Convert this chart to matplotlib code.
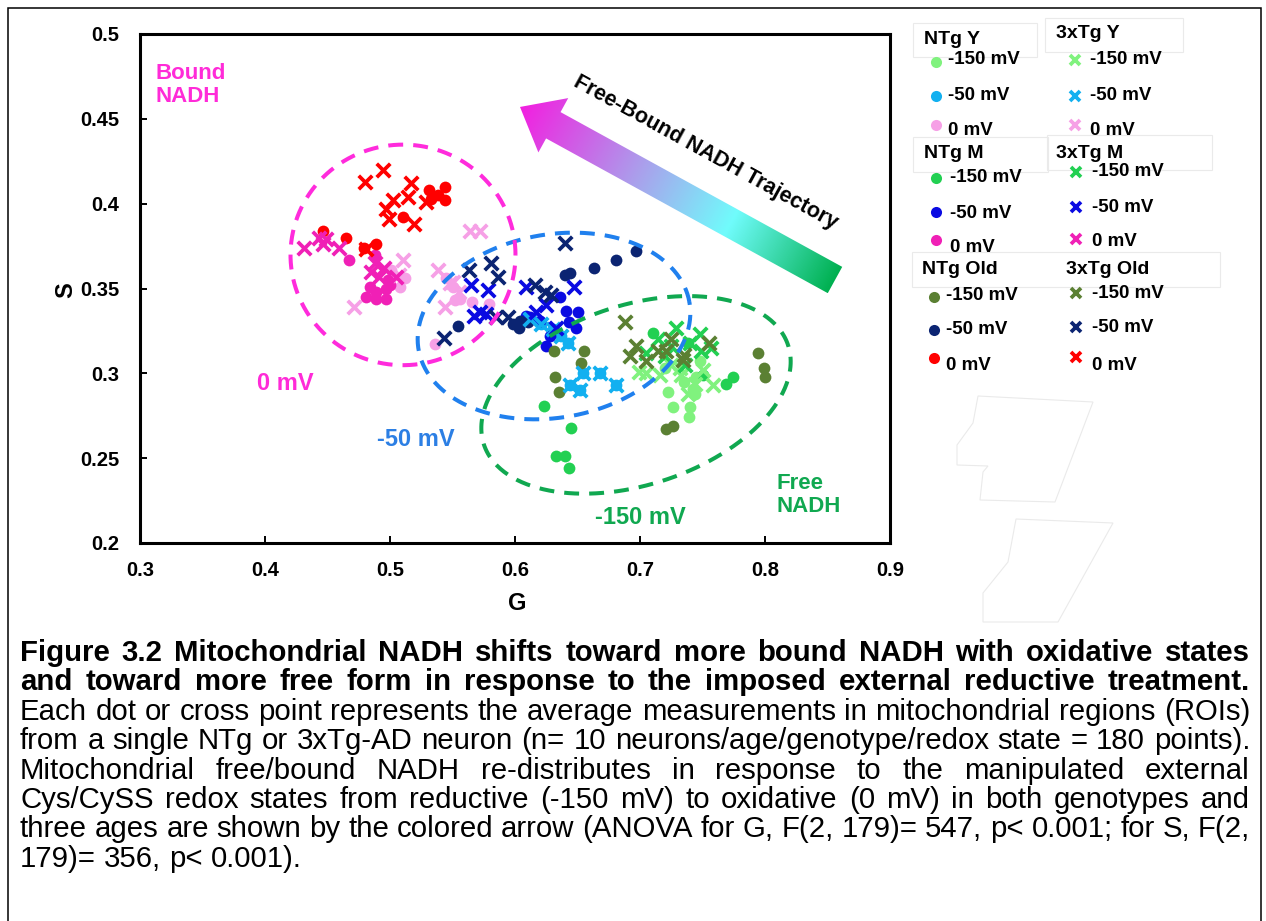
import numpy as np
import matplotlib
matplotlib.use('Agg')
import matplotlib.pyplot as plt
from matplotlib.patches import Polygon, Rectangle
from matplotlib.lines import Line2D
from matplotlib.colors import LinearSegmentedColormap

plt.rcParams['font.family'] = ['Liberation Sans', 'DejaVu Sans']

W, H = 1266, 921

# ---- data (G, S) ----
# NTg young
ntg_y_150_g = [0.748, 0.722, 0.744, 0.726, 0.740, 0.739, 0.742, 0.720, 0.745, 0.735]
ntg_y_150_s = [0.307, 0.289, 0.288, 0.280, 0.280, 0.274, 0.291, 0.303, 0.298, 0.295]
ntg_y_50_g = [0.621, 0.630, 0.637, 0.642, 0.654, 0.644, 0.652, 0.668, 0.681, 0.612]
ntg_y_50_s = [0.329, 0.326, 0.322, 0.318, 0.300, 0.293, 0.290, 0.300, 0.293, 0.332]
ntg_y_0_g = [0.501, 0.508, 0.556, 0.566, 0.579, 0.536, 0.552, 0.550, 0.545, 0.512]
ntg_y_0_s = [0.361, 0.351, 0.344, 0.342, 0.341, 0.317, 0.343, 0.351, 0.356, 0.356]
# NTg middle
ntg_m_150_g = [0.710, 0.750, 0.769, 0.774, 0.623, 0.645, 0.633, 0.640, 0.643, 0.738]
ntg_m_150_s = [0.324, 0.299, 0.294, 0.298, 0.281, 0.268, 0.251, 0.251, 0.244, 0.318]
ntg_m_50_g = [0.636, 0.641, 0.650, 0.649, 0.612, 0.625, 0.609, 0.643, 0.628, 0.620]
ntg_m_50_s = [0.345, 0.337, 0.336, 0.327, 0.333, 0.316, 0.334, 0.330, 0.322, 0.331]
ntg_m_0_g = [0.467, 0.484, 0.489, 0.481, 0.489, 0.497, 0.497, 0.498, 0.488, 0.500]
ntg_m_0_s = [0.367, 0.351, 0.348, 0.345, 0.344, 0.344, 0.350, 0.355, 0.370, 0.352]
# NTg old
ntg_o_150_g = [0.631, 0.655, 0.653, 0.632, 0.635, 0.794, 0.799, 0.800, 0.721, 0.726]
ntg_o_150_s = [0.313, 0.313, 0.306, 0.298, 0.289, 0.312, 0.303, 0.298, 0.267, 0.269]
ntg_o_50_g = [0.697, 0.681, 0.663, 0.640, 0.644, 0.554, 0.604, 0.603, 0.610, 0.598]
ntg_o_50_s = [0.372, 0.367, 0.362, 0.358, 0.359, 0.328, 0.331, 0.327, 0.330, 0.329]
ntg_o_0_g = [0.531, 0.544, 0.538, 0.544, 0.510, 0.446, 0.465, 0.489, 0.479, 0.533]
ntg_o_0_s = [0.408, 0.410, 0.405, 0.402, 0.392, 0.384, 0.380, 0.376, 0.374, 0.403]
# 3xTg young
tg_y_150_g = [0.699, 0.716, 0.733, 0.744, 0.758, 0.732, 0.705, 0.725, 0.738, 0.750]
tg_y_150_s = [0.301, 0.299, 0.299, 0.294, 0.293, 0.303, 0.300, 0.305, 0.288, 0.302]
tg_y_50_g = [0.621, 0.630, 0.637, 0.642, 0.654, 0.644, 0.652, 0.668, 0.681, 0.612]
tg_y_50_s = [0.329, 0.326, 0.322, 0.318, 0.300, 0.293, 0.290, 0.300, 0.293, 0.332]
tg_y_0_g = [0.564, 0.572, 0.510, 0.507, 0.471, 0.538, 0.544, 0.548, 0.550, 0.555]
tg_y_0_s = [0.384, 0.384, 0.367, 0.358, 0.339, 0.361, 0.339, 0.353, 0.354, 0.348]
# 3xTg middle
tg_m_150_g = [0.729, 0.748, 0.757, 0.749, 0.714, 0.720, 0.740, 0.705, 0.736, 0.725]
tg_m_150_s = [0.327, 0.323, 0.315, 0.313, 0.320, 0.310, 0.318, 0.312, 0.305, 0.316]
tg_m_50_g = [0.565, 0.578, 0.572, 0.567, 0.577, 0.609, 0.647, 0.617, 0.633, 0.625]
tg_m_50_s = [0.352, 0.349, 0.336, 0.334, 0.335, 0.351, 0.351, 0.336, 0.327, 0.340]
tg_m_0_g = [0.431, 0.443, 0.446, 0.459, 0.485, 0.495, 0.491, 0.505, 0.449, 0.488]
tg_m_0_s = [0.374, 0.380, 0.376, 0.374, 0.360, 0.362, 0.357, 0.357, 0.379, 0.365]
# 3xTg old
tg_o_150_g = [0.688, 0.697, 0.692, 0.705, 0.714, 0.721, 0.725, 0.735, 0.734, 0.755]
tg_o_150_s = [0.330, 0.316, 0.310, 0.307, 0.313, 0.313, 0.320, 0.311, 0.308, 0.318]
tg_o_50_g = [0.640, 0.563, 0.581, 0.586, 0.616, 0.624, 0.629, 0.585, 0.594, 0.543]
tg_o_50_s = [0.377, 0.361, 0.365, 0.357, 0.352, 0.348, 0.346, 0.333, 0.333, 0.321]
tg_o_0_g = [0.480, 0.494, 0.517, 0.514, 0.502, 0.497, 0.499, 0.519, 0.529, 0.481]
tg_o_0_s = [0.413, 0.420, 0.412, 0.404, 0.402, 0.397, 0.391, 0.388, 0.401, 0.373]

groups = ["NTg Y", "NTg M", "NTg Old", "3xTg Y", "3xTg M", "3xTg Old"]
states = ["-150 mV", "-50 mV", "0 mV"]
colors = {
    "Y": ["#80F27E", "#12B0F0", "#F6A0E6"],
    "M": ["#22D052", "#0A0AE2", "#F020B6"],
    "Old": ["#5B8033", "#0B2472", "#FF0000"],
}
series = {
    "NTg Y": [(ntg_y_150_g, ntg_y_150_s), (ntg_y_50_g, ntg_y_50_s), (ntg_y_0_g, ntg_y_0_s)],
    "NTg M": [(ntg_m_150_g, ntg_m_150_s), (ntg_m_50_g, ntg_m_50_s), (ntg_m_0_g, ntg_m_0_s)],
    "NTg Old": [(ntg_o_150_g, ntg_o_150_s), (ntg_o_50_g, ntg_o_50_s), (ntg_o_0_g, ntg_o_0_s)],
    "3xTg Y": [(tg_y_150_g, tg_y_150_s), (tg_y_50_g, tg_y_50_s), (tg_y_0_g, tg_y_0_s)],
    "3xTg M": [(tg_m_150_g, tg_m_150_s), (tg_m_50_g, tg_m_50_s), (tg_m_0_g, tg_m_0_s)],
    "3xTg Old": [(tg_o_150_g, tg_o_150_s), (tg_o_50_g, tg_o_50_s), (tg_o_0_g, tg_o_0_s)],
}

x_ticks = [0.3, 0.4, 0.5, 0.6, 0.7, 0.8, 0.9]
x_ticklabels = ["0.3", "0.4", "0.5", "0.6", "0.7", "0.8", "0.9"]
y_ticks = [0.2, 0.25, 0.3, 0.35, 0.4, 0.45, 0.5]
y_ticklabels = ["0.2", "0.25", "0.3", "0.35", "0.4", "0.45", "0.5"]

# redox-state ellipses: centre (G, S), half widths (G units, S units), tilt in degrees
# drawn blue first, then green, then magenta
ellipses = [
    ((0.6312, 0.3279), 0.110, 0.054, 10, "#2080EE"),
    ((0.6968, 0.2873), 0.128, 0.053, 18, "#10A850"),
    ((0.5104, 0.3698), 0.090, 0.065, 0, "#FF2BDC"),
]

caption = [
    ("Figure 3.2 Mitochondrial NADH shifts toward more bound NADH with oxidative states", "bold"),
    ("and toward more free form in response to the imposed external reductive treatment.", "bold"),
    ("Each dot or cross point represents the average measurements in mitochondrial regions (ROIs)", "normal"),
    ("from a single NTg or 3xTg-AD neuron (n= 10 neurons/age/genotype/redox state = 180 points).", "normal"),
    ("Mitochondrial free/bound NADH re-distributes in response to the manipulated external", "normal"),
    ("Cys/CySS redox states from reductive (-150 mV) to oxidative (0 mV) in both genotypes and", "normal"),
    ("three ages are shown by the colored arrow (ANOVA for G, F(2, 179)= 547, p< 0.001; for S, F(2,", "normal"),
    ("179)= 356, p< 0.001).", "normal"),
]


def fx(px):
    return px / W


def fy(py):
    return 1 - py / H


fig = plt.figure(figsize=(W / 100, H / 100), dpi=100)
ax = fig.add_axes([fx(140), fy(543), (890 - 140) / W, (543 - 34) / H])
ax.set_xlim(0.3, 0.9)
ax.set_ylim(0.2, 0.5)

# scatter points
for grp in groups:
    age = grp.split()[1]
    mk = 'o' if grp.startswith("NTg") else 'x'
    for (g, s), col in zip(series[grp], colors[age]):
        if mk == 'o':
            ax.scatter(g, s, s=72, marker='o', color=col, linewidths=0, zorder=3)
        else:
            ax.scatter(g, s, s=95, marker='x', color=col, linewidths=2.7, zorder=3)

# dashed ellipses (shape defined in screen space so tilt is right)
sx = ax.transData.transform((0.4, 0.3))[0] - ax.transData.transform((0.3, 0.3))[0]
sy = ax.transData.transform((0.3, 0.4))[1] - ax.transData.transform((0.3, 0.3))[1]
phi = np.linspace(0, 2 * np.pi, 400)
for (cg, cs), a, b, ang, col in ellipses:
    a_px, b_px = a * sx / 0.1, b * sy / 0.1
    th = np.radians(ang)
    u = a_px * np.cos(phi)
    v = b_px * np.sin(phi)
    dx = u * np.cos(th) - v * np.sin(th)
    dy = u * np.sin(th) + v * np.cos(th)
    ax.plot(cg + dx / sx * 0.1, cs + dy / sy * 0.1, color=col, lw=2.9,
            ls=(0, (3.7, 2.5)), zorder=4)

# gradient arrow
tail = np.array(ax.transData.transform((0.856, 0.355)))
tip = np.array(ax.transData.transform((0.604, 0.457)))
L = np.linalg.norm(tip - tail)
u = (tip - tail) / L
n = np.array([-u[1], u[0]])
w, hw, hl = 15, 31, 38
base = tip - u * hl
pts = [tail + n * w, base + n * w, base + n * hw, tip, base - n * hw, base - n * w, tail - n * w]
pts_data = ax.transData.inverted().transform(np.array(pts))
arrow = Polygon(pts_data, closed=True, facecolor='none', edgecolor='none', transform=ax.transData)
ax.add_patch(arrow)
gx = np.linspace(pts_data[:, 0].min(), pts_data[:, 0].max(), 300)
gy = np.linspace(pts_data[:, 1].min(), pts_data[:, 1].max(), 300)
GX, GY = np.meshgrid(gx, gy)
disp = ax.transData.transform(np.column_stack([GX.ravel(), GY.ravel()]))
t = np.clip(((disp - tail) @ u) / L, 0, 1).reshape(GX.shape)
cmap = LinearSegmentedColormap.from_list(
    "traj", [(0, "#00B050"), (0.33, "#70FCFC"), (0.62, "#AAA0EC"), (1, "#F21FE0")])
im = ax.imshow(t, cmap=cmap, extent=(gx[0], gx[-1], gy[0], gy[-1]), origin='lower',
               aspect='auto', interpolation='bilinear', zorder=2)
im.set_clip_path(arrow)
ax.set_xlim(0.3, 0.9)
ax.set_ylim(0.2, 0.5)

ax.text(0.7528, 0.4299, "Free-Bound NADH Trajectory", fontsize=15.5, fontweight='bold',
        rotation=-28.8, rotation_mode='anchor', ha='center', va='center', zorder=5)
ax.text(0.312, 0.470, "Bound\nNADH", color="#FF2BD8", fontsize=16, fontweight='bold',
        ha='left', va='center', linespacing=1.15)
ax.text(0.3936, 0.2943, "0 mV", color="#FF2BD8", fontsize=17, fontweight='bold', ha='left', va='center')
ax.text(0.4896, 0.2608, "-50 mV", color="#2C7FE4", fontsize=17, fontweight='bold', ha='left', va='center')
ax.text(0.664, 0.2148, "-150 mV", color="#10A850", fontsize=17, fontweight='bold', ha='left', va='center')
ax.text(0.8096, 0.2283, "Free\nNADH", color="#10A850", fontsize=16, fontweight='bold',
        ha='left', va='center', linespacing=1.15)

ax.set_xticks(x_ticks)
ax.set_xticklabels(x_ticklabels)
ax.set_yticks(y_ticks)
ax.set_yticklabels(y_ticklabels)
ax.tick_params(direction='in', length=5, width=1.4, labelsize=14.5, pad=13)
ax.tick_params(axis='y', pad=15)
for lab in ax.get_xticklabels() + ax.get_yticklabels():
    lab.set_fontweight('bold')
for sp in ax.spines.values():
    sp.set_linewidth(2.2)

ax.set_xlabel("G", fontsize=17, fontweight='bold', va='center')
ax.set_ylabel("S", fontsize=17, fontweight='bold', va='center')
ax.xaxis.set_label_coords((517 - 140) / 750, (543 - 603) / 509)
ax.yaxis.set_label_coords((66 - 140) / 750, (543 - 290) / 509)

# legend blocks: title pos, marker x, label x, marker ys, label ys
legend_pos = {
    "NTg Y": (924, 40, 936, 948, [62, 96, 125], [60, 96, 130]),
    "3xTg Y": (1056, 33, 1075, 1090, [60, 96, 125], [60, 96, 130]),
    "NTg M": (924, 153, 936, 950, [178, 212, 240], [177, 213, 247]),
    "3xTg M": (1056, 153, 1076, 1092, [172, 207, 239], [172, 207, 242]),
    "NTg Old": (922, 270, 934, 946, [297, 330, 358], [295, 330, 365]),
    "3xTg Old": (1066, 270, 1076, 1092, [293, 327, 357], [293, 327, 365]),
}
title_boxes = [(913, 23, 1037, 57), (1045, 18, 1183, 52), (913, 137, 1048, 172),
               (1047, 135, 1212, 170), (912, 252, 1220, 287)]
for x0, y0, x1, y1 in title_boxes:
    fig.add_artist(Rectangle((fx(x0), fy(y1)), fx(x1) - fx(x0), fy(y0) - fy(y1), fill=False,
                             ec="#EAEAEA", lw=0.8, transform=fig.transFigure))
for grp in groups:
    tx, ty, mx, lx, mys, lys = legend_pos[grp]
    age = grp.split()[1]
    fig.text(fx(tx), fy(ty), grp, fontsize=14, fontweight='bold', ha='left', va='center')
    for st, col, my, ly in zip(states, colors[age], mys, lys):
        if grp.startswith("NTg"):
            fig.add_artist(Line2D([fx(mx)], [fy(my)], marker='o', ms=8, mew=0, color=col,
                                  ls='none', transform=fig.transFigure))
        else:
            fig.add_artist(Line2D([fx(mx)], [fy(my)], marker='x', ms=7.5, mew=2.7, color=col,
                                  ls='none', transform=fig.transFigure))
        fig.text(fx(lx), fy(ly), st, fontsize=13.5, fontweight='bold', ha='left', va='center')

# faint leftover shapes
for poly in [[(978, 396), (1093, 402), (1055, 502), (980, 500), (983, 472), (988, 466),
              (957, 465), (957, 445), (973, 423)],
             [(1016, 519), (1113, 523), (1058, 622), (983, 622), (983, 593), (1008, 562)]]:
    fig.add_artist(Polygon([(fx(a), fy(b)) for a, b in poly], closed=True, fill=False,
                           ec="#EAEAEA", lw=0.8, transform=fig.transFigure))

# outer border (bottom edge falls outside the image)
fig.add_artist(Rectangle((fx(8), fy(930)), fx(1261) - fx(8), fy(8) - fy(930), fill=False,
                         ec='black', lw=1.1, transform=fig.transFigure, clip_on=False))

# justified caption
renderer = fig.canvas.get_renderer()
cap_size = 21.2
left, right = 20, 1250
for i, (line, wt) in enumerate(caption):
    yb = 661 + i * 29.4
    words = line.split(' ')
    arts = [fig.text(0, fy(yb), wd, fontsize=cap_size, fontweight=wt, ha='left', va='baseline')
            for wd in words]
    widths = [a.get_window_extent(renderer).width for a in arts]
    if i == len(caption) - 1:
        gap = 0.278 * cap_size * 100 / 72
    else:
        gap = max((right - left - sum(widths)) / (len(words) - 1), 3)
    xcur = left
    for a, wd in zip(arts, widths):
        a.set_x(fx(xcur))
        xcur += wd + gap

fig.savefig("out.png", dpi=100)
